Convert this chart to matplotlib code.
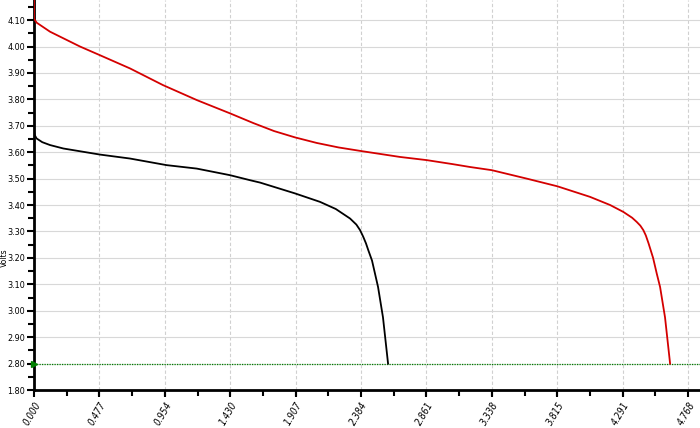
import numpy as np
import matplotlib
matplotlib.use("Agg")
import matplotlib.pyplot as plt
from matplotlib.ticker import FixedLocator, FixedFormatter, MultipleLocator

# discharge curves
red_x = [0.0, 0.0, 0.02, 0.117, 0.335, 0.481, 0.70, 0.94, 1.188, 1.429, 1.60, 1.75,
         1.903, 2.061, 2.22, 2.389, 2.668, 2.863, 3.05, 3.178, 3.337, 3.592, 3.815,
         4.053, 4.20, 4.296, 4.36, 4.394, 4.42, 4.442, 4.46, 4.48, 4.513, 4.54, 4.564,
         4.60, 4.637]
red_v = [4.20, 4.105, 4.09, 4.056, 4.00, 3.967, 3.917, 3.854, 3.797, 3.747, 3.71, 3.68,
         3.656, 3.635, 3.618, 3.604, 3.582, 3.570, 3.555, 3.544, 3.532, 3.50, 3.471,
         3.431, 3.40, 3.374, 3.352, 3.336, 3.322, 3.305, 3.285, 3.255, 3.20, 3.14, 3.09,
         2.975, 2.80]

black_x = [0.0, 0.005, 0.019, 0.06, 0.117, 0.214, 0.481, 0.70, 0.967, 1.186, 1.429,
           1.575, 1.648, 1.903, 2.085, 2.20, 2.304, 2.35, 2.377, 2.40, 2.42, 2.437,
           2.464, 2.508, 2.544, 2.581]
black_v = [3.68, 3.665, 3.652, 3.638, 3.627, 3.614, 3.591, 3.576, 3.551, 3.538, 3.513,
           3.494, 3.485, 3.444, 3.412, 3.385, 3.349, 3.326, 3.305, 3.28, 3.255, 3.229,
           3.19, 3.09, 2.975, 2.80]

cutoff = 2.80

x_ticks = [0.000, 0.477, 0.954, 1.430, 1.907, 2.384, 2.861, 3.338, 3.815, 4.291, 4.768]
x_labels = ["0.000", "0.477", "0.954", "1.430", "1.907", "2.384", "2.861", "3.338",
            "3.815", "4.291", "4.768"]
y_ticks = [2.70, 2.80, 2.90, 3.00, 3.10, 3.20, 3.30, 3.40, 3.50, 3.60, 3.70, 3.80,
           3.90, 4.00, 4.10]
y_labels = ["1.80", "2.80", "2.90", "3.00", "3.10", "3.20", "3.30", "3.40", "3.50",
            "3.60", "3.70", "3.80", "3.90", "4.00", "4.10"]

font = ["Liberation Sans Narrow", "DejaVu Sans"]

fig = plt.figure(figsize=(7, 4.28), dpi=100)
ax = fig.add_axes([34 / 700, 38 / 428, 1 - 34 / 700, 390 / 428])

ax.plot(red_x, red_v, color="#d40000", lw=1.3, zorder=3, solid_joinstyle="round")
ax.plot(black_x, black_v, color="black", lw=1.3, zorder=3, solid_joinstyle="round")
ax.axhline(cutoff, color="#008000", lw=0.9, ls=(0, (1, 1)), zorder=2)
ax.plot([0], [cutoff], marker=">", color="#008000", ms=5, clip_on=False, zorder=4)

ax.set_xlim(0, 4.855)
ax.set_ylim(2.70, 4.176)

ax.xaxis.set_major_locator(FixedLocator(x_ticks))
ax.xaxis.set_major_formatter(FixedFormatter(x_labels))
ax.xaxis.set_minor_locator(MultipleLocator(0.4768 / 2))
ax.yaxis.set_major_locator(FixedLocator(y_ticks))
ax.yaxis.set_major_formatter(FixedFormatter(y_labels))
ax.yaxis.set_minor_locator(MultipleLocator(0.05))

ax.grid(axis="x", which="major", color="#d0d0d0", ls=(0, (3, 2)), lw=0.8)
ax.grid(axis="y", which="major", color="#d8d8d8", ls="-", lw=0.8)

for s in ["top", "right"]:
    ax.spines[s].set_visible(False)
for s in ["left", "bottom"]:
    ax.spines[s].set_linewidth(2)

ax.tick_params(which="major", length=5, width=1.5, color="black")
ax.tick_params(which="minor", length=4, width=1.5, color="black")
ax.tick_params(axis="y", labelsize=6.5, pad=1.5)
ax.tick_params(axis="x", labelsize=7, pad=2)

for lab in ax.get_yticklabels():
    lab.set_family(font)
    lab.set_stretch("condensed")
for lab in ax.get_xticklabels():
    lab.set_family(font)
    lab.set_stretch("condensed")
    lab.set_rotation(60)
    lab.set_style("italic")
    lab.set_ha("right")
    lab.set_rotation_mode("anchor")

fig.text(4 / 700, (428 - 258) / 428, "Volts", rotation=90, fontsize=5.5,
         va="center", ha="center", family="DejaVu Sans")

fig.savefig("out.png", dpi=100)
